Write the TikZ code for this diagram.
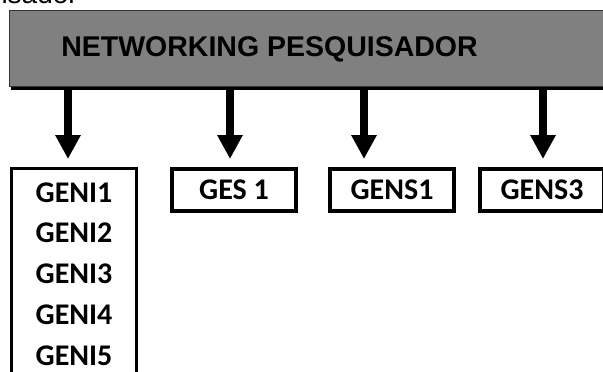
\documentclass[tikz,border=0pt]{standalone}
\usepackage{fontspec}
\setmainfont{Carlito}
\newfontfamily\arialfont{Liberation Sans}
\usetikzlibrary{arrows.meta,shadows}

\begin{document}
\begin{tikzpicture}[x=1pt, y=-1pt,
bar/.style={rectangle, draw=black!80, fill=black!50, line width=1pt, minimum width=620pt, minimum height=76pt, drop shadow={shadow xshift=1pt, shadow yshift=-3.5pt, fill=black, opacity=1}},
bartext/.style={font=\arialfont\fontsize{28.5}{32}\selectfont\bfseries},
box/.style={rectangle, draw=black, line width=4pt, minimum width=124pt, minimum height=42pt, inner sep=0pt, font=\fontsize{30}{34}\selectfont\bfseries},
col/.style={rectangle, draw=black, line width=3pt, minimum width=125pt, inner xsep=0pt, inner ysep=14pt, align=center, font=\fontsize{30}{40.75}\selectfont\bfseries},
arr/.style={line width=8pt, -{Triangle[width=24pt,length=24pt]}, shorten >=8pt}
]
\clip (0,0) rectangle (603,372);
%Nodes
\node[anchor=base west, font=\arialfont\fontsize{28}{32}\selectfont] (cap) at (-2,4) {isador};
\node[bar]       (title)   at (319.5,48.5)     {};
\node[bartext]   (titletext) at (269.5,49.5)   {NETWORKING PESQUISADOR};
\node[col, anchor=north] (geni)  at (74,167)  {GENI1\\GENI2\\GENI3\\GENI4\\GENI5};
\node[box]       (ges1)    at (234,190)        {GES 1};
\node[box]       (gens1)   at (392,190)        {GENS1};
\node[box]       (gens3)   at (542,190)        {GENS3};
%Arrow columns
\coordinate (c1) at (68,0);
\coordinate (c2) at (230,0);
\coordinate (c3) at (364,0);
\coordinate (c4) at (543,0);
%Lines
\draw[arr] (title.south -| c1) -- (geni.north -| c1);
\draw[arr] (title.south -| c2) -- (ges1.north -| c2);
\draw[arr] (title.south -| c3) -- (gens1.north -| c3);
\draw[arr] (title.south -| c4) -- (gens3.north -| c4);
\end{tikzpicture}
\end{document}
